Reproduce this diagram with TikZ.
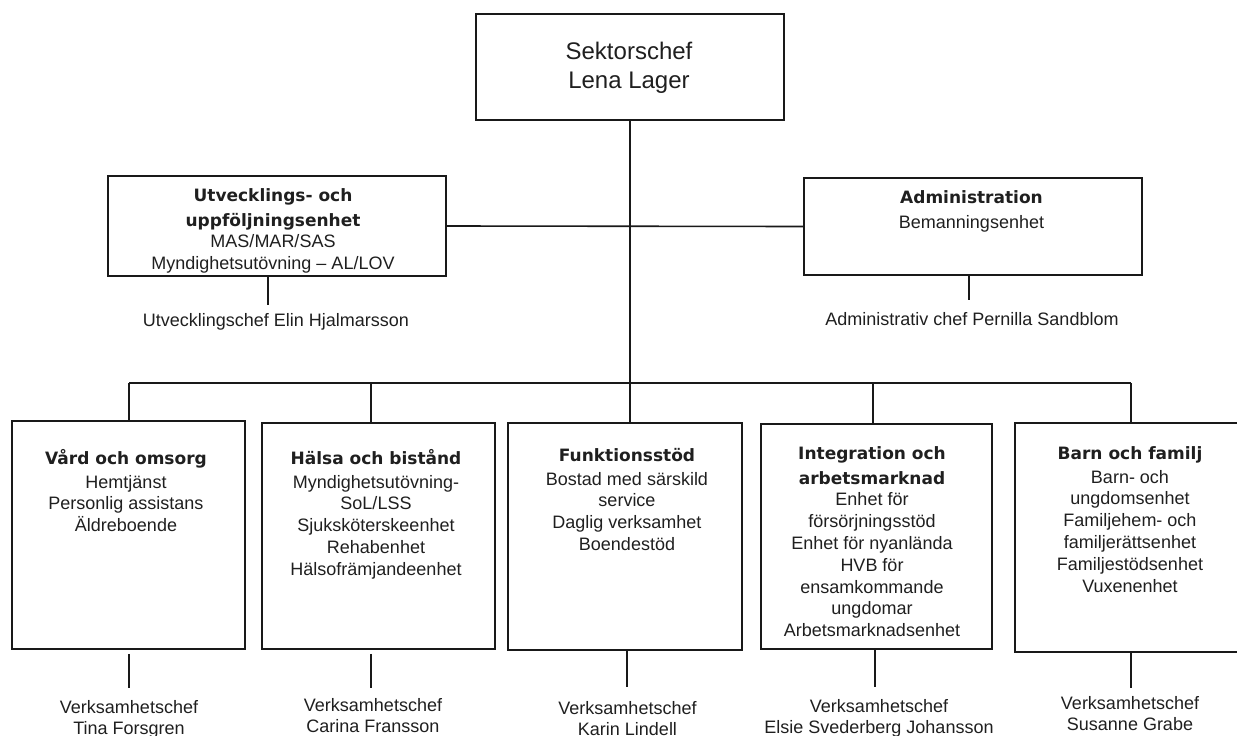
\documentclass[tikz,border=0pt]{standalone}
\usepackage{fontspec}
\setmainfont{Liberation Sans}
\newfontfamily\titlefont{DejaVu Sans}
\newcommand\orgtitle[1]{{\titlefont\bfseries\fontsize{17}{21.8}\selectfont #1}}
\newcommand\orgstrut{\rule{0pt}{14pt}}
\begin{document}
\begin{tikzpicture}[x=1pt,y=-1pt,
  box/.style={draw=black!90, line width=1.5pt, minimum width=#1},
  box/.default=233pt,
  conn/.style={draw=black!90, line width=1.6pt},
  txt/.style={inner sep=0pt, align=center, anchor=north, text=black!88,
    font=\fontsize{18}{21.8}\selectfont},
  lbl/.style={inner sep=0pt, align=center, anchor=north, text=black!88,
    font=\fontsize{18}{20.5}\selectfont},
  one/.style={inner sep=0pt, text=black!88, font=\fontsize{18}{21.8}\selectfont}]
\useasboundingbox (0,0) rectangle (1237,736);

% top box
\node[box=308pt, minimum height=106pt] (top) at (630,67) {};
\node[inner sep=0pt, align=center, text=black!88,
  font=\fontsize{24}{29}\selectfont] (toptxt) at (629,68) {Sektorschef\\Lena Lager};

% staff boxes
\node[box=338pt, minimum height=100pt] (util) at (277,226) {};
\node[txt] (utiltxt) at (273,187) {\orgstrut\orgtitle{Utvecklings- och}\\[3pt]\orgtitle{uppföljningsenhet}\\MAS/MAR/SAS\\Myndighetsutövning – AL/LOV};
\node[box=338pt, minimum height=97pt] (admin) at (973,226.5) {};
\node[txt] (admintxt) at (971.5,189) {\orgstrut\orgtitle{Administration}\\[3pt]Bemanningsenhet};

\draw[conn] (util.east) -- (admin.west);

\coordinate (ue) at (268,305);
\coordinate (ae) at (969,300);
\draw[conn] (util.south -| ue) -- (ue);
\draw[conn] (admin.south -| ae) -- (ae);
\node[one] (utillbl) at (276,322) {Utvecklingschef Elin Hjalmarsson};
\node[one] (adminlbl) at (972,319) {Administrativ chef Pernilla Sandblom};

% bus
\coordinate (k1) at (129,383);
\coordinate (k2) at (371,383);
\coordinate (k3) at (630,383);
\coordinate (k4) at (873,383);
\coordinate (k5) at (1131,383);
\draw[conn] (top.south) -- (k3);
\draw[conn] (k1) -- (k5);

% bottom boxes
\node[box=233pt, minimum height=228pt] (b1) at (128.5,535) {};
\node[box=233pt, minimum height=226pt] (b2) at (378.5,536) {};
\node[box=234pt, minimum height=227pt] (b3) at (625,536.5) {};
\node[box=231pt, minimum height=225pt] (b4) at (876.5,536.5) {};
\node[box=233pt, minimum height=229pt] (b5) at (1131.5,537.5) {};

\draw[conn] (k1) -- (k1 |- b1.north);
\draw[conn] (k2) -- (k2 |- b2.north);
\draw[conn] (k3) -- (k3 |- b3.north);
\draw[conn] (k4) -- (k4 |- b4.north);
\draw[conn] (k5) -- (k5 |- b5.north);

\node[txt] (b1t) at (126,449) {\orgstrut\orgtitle{Vård och omsorg}\\[2pt]Hemtjänst\\Personlig assistans\\Äldreboende};
\node[txt] (b2t) at (376,449) {\orgstrut\orgtitle{Hälsa och bistånd}\\[2pt]Myndighetsutövning-\\SoL/LSS\\Sjuksköterskeenhet\\Rehabenhet\\Hälsofrämjandeenhet};
\node[txt] (b3t) at (627,447) {\orgstrut\orgtitle{Funktionsstöd}\\[2pt]Bostad med särskild\\service\\Daglig verksamhet\\Boendestöd};
\node[txt] (b4t) at (872,445) {\orgstrut\orgtitle{Integration och}\\[3pt]\orgtitle{arbetsmarknad}\\Enhet för\\försörjningsstöd\\Enhet för nyanlända\\HVB för\\ensamkommande\\ungdomar\\Arbetsmarknadsenhet};
\node[txt] (b5t) at (1130,445) {\orgstrut\orgtitle{Barn och familj}\\[2pt]Barn- och\\ungdomsenhet\\Familjehem- och\\familjerättsenhet\\Familjestödsenhet\\Vuxenenhet};

% managers
\coordinate (e1) at (129,688);
\coordinate (e2) at (371,688);
\coordinate (e3) at (627,687);
\coordinate (e4) at (875,687);
\coordinate (e5) at (1131,688);
\draw[conn, shorten <=4pt] (b1.south -| e1) -- (e1);
\draw[conn, shorten <=4pt] (b2.south -| e2) -- (e2);
\draw[conn] (b3.south -| e3) -- (e3);
\draw[conn] (b4.south -| e4) -- (e4);
\draw[conn] (b5.south -| e5) -- (e5);

\node[lbl] (l1) at (129,699.5) {\orgstrut Verksamhetschef\\Tina Forsgren};
\node[lbl] (l2) at (373,697.5) {\orgstrut Verksamhetschef\\Carina Fransson};
\node[lbl] (l3) at (627.5,700.5) {\orgstrut Verksamhetschef\\Karin Lindell};
\node[lbl] (l4) at (879,698.5) {\orgstrut Verksamhetschef\\Elsie Svederberg Johansson};
\node[lbl] (l5) at (1130,695.5) {\orgstrut Verksamhetschef\\Susanne Grabe};
\end{tikzpicture}
\end{document}
